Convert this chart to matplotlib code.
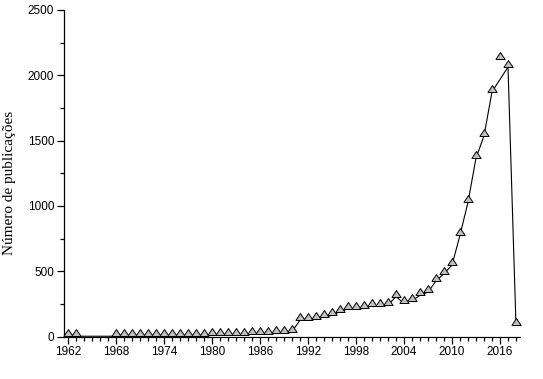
import numpy as np
import matplotlib
matplotlib.use("Agg")
import matplotlib.pyplot as plt
from matplotlib.ticker import MultipleLocator

years = [1962, 1963] + list(range(1968, 2019))
pubs = [3, 2,
        2, 1, 2, 1, 3, 2, 2, 3, 4, 5, 6, 7,
        10, 12, 11, 14, 15, 17, 20, 18, 25, 28, 38,
        125, 125, 135, 148, 162, 190, 212, 207, 220, 233,
        233, 243, 305, 254, 274, 315, 340, 425, 482, 546,
        777, 1028, 1366, 1536, 1874, 2125, 2063, 85]

# the connecting line skips 2016 in the original
line_years = [y for y in years if y != 2016]
line_pubs = [p for y, p in zip(years, pubs) if y != 2016]

plt.rcParams['font.family'] = ['Liberation Sans', 'DejaVu Sans']

fig = plt.figure(figsize=(5.43, 3.79), dpi=100)
ax = fig.add_axes([64/543, 42.5/379, 456/543, 326.5/379])

# triangle with its base sitting on the data value
tri = [(-1, 0), (1, 0), (0, 1.5), (-1, 0)]

ax.plot(line_years, line_pubs, color='black', lw=0.8, zorder=2)
ax.plot(years, pubs, linestyle='none', marker=tri, markersize=10,
        markerfacecolor='#c0c0c0', markeredgecolor='black',
        markeredgewidth=0.7, zorder=3, clip_on=False)

ax.set_xlim(1961.5, 2018.5)
ax.set_ylim(0, 2500)
ax.xaxis.set_major_locator(MultipleLocator(6))
ax.xaxis.set_minor_locator(MultipleLocator(1))
ax.yaxis.set_major_locator(MultipleLocator(500))
ax.yaxis.set_minor_locator(MultipleLocator(250))
ax.set_xticks(range(1962, 2017, 6))

for s in ['top', 'right']:
    ax.spines[s].set_visible(False)
for s in ['left', 'bottom']:
    ax.spines[s].set_linewidth(0.9)

ax.tick_params(which='major', direction='out', length=5, width=0.9,
               labelsize=8.5, pad=2)
ax.tick_params(which='minor', direction='out', length=3, width=0.9)

ax.set_ylabel('Número de publicações', family=['Liberation Serif', 'DejaVu Serif'],
              fontsize=11)
ax.yaxis.set_label_coords(-48/456, (379 - 183 - 42.5) / 326.5)

fig.savefig('out.png', dpi=100)
